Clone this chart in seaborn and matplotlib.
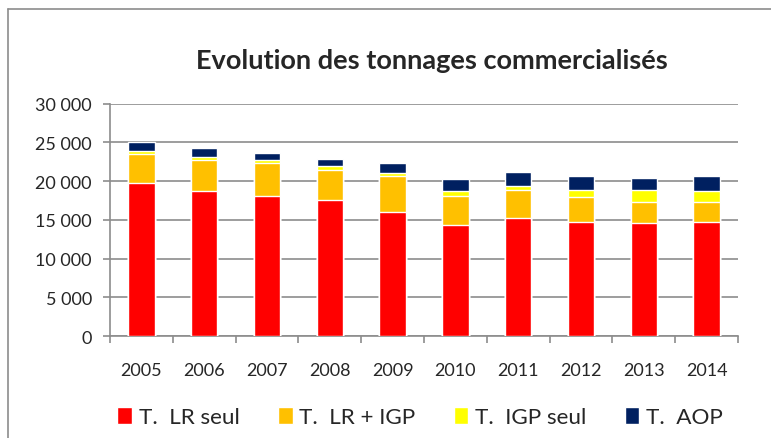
import pandas as pd
import seaborn as sns
import matplotlib.pyplot as plt
from matplotlib.patches import Patch
from matplotlib.lines import Line2D
from matplotlib.ticker import FuncFormatter, MultipleLocator, FixedLocator

# tonnages
years = ['2005', '2006', '2007', '2008', '2009', '2010', '2011', '2012', '2013', '2014']
lr_seul = [19700, 18700, 18100, 17500, 16000, 14300, 15200, 14700, 14600, 14700]
lr_igp = [3800, 4000, 4200, 3900, 4600, 3800, 3700, 3200, 2700, 2600]
igp_seul = [400, 400, 400, 500, 400, 600, 400, 1000, 1600, 1400]
aop = [1100, 1100, 900, 1000, 1300, 1500, 1900, 1700, 1500, 1900]

series = ['T.  LR seul', 'T.  LR + IGP', 'T.  IGP seul', 'T.  AOP']
colors = ['#FF0000', '#FFC000', '#FFFF00', '#002060']

df = pd.DataFrame({'year': years, series[0]: lr_seul, series[1]: lr_igp,
                   series[2]: igp_seul, series[3]: aop})

sns.set_style('white')
plt.rcParams['font.family'] = ['Lato', 'DejaVu Sans']

fig = plt.figure(figsize=(7.71, 4.39), dpi=100)
ax = fig.add_axes([0.1427, 0.2323, 0.8145, 0.5296])

# stacked bars: draw cumulative totals from top layer down
cum = df[series].cumsum(axis=1)
for name, col in reversed(list(zip(series, colors))):
    sns.barplot(x=df['year'], y=cum[name], color=col, saturation=1,
                width=0.42, ax=ax, zorder=3)

ax.set_ylim(0, 30000)
ax.set_xlim(-0.5, len(years) - 0.5)
ax.yaxis.set_major_locator(MultipleLocator(5000))
ax.yaxis.set_major_formatter(FuncFormatter(lambda v, p: f'{int(v):,}'.replace(',', ' ')))
ax.grid(axis='y', color='#8c8c8c', linewidth=1.2, zorder=0)
ax.set_axisbelow(True)
ax.set_xlabel('')
ax.set_ylabel('')

for s in ['top', 'right']:
    ax.spines[s].set_visible(False)
for s in ['left', 'bottom']:
    ax.spines[s].set_color('#8c8c8c')
    ax.spines[s].set_linewidth(1.2)

ax.xaxis.set_minor_locator(FixedLocator([i - 0.5 for i in range(len(years) + 1)]))
ax.tick_params(axis='x', which='major', length=0, labelsize=13, pad=19)
ax.tick_params(axis='x', which='minor', length=5, color='#8c8c8c', width=1.2, direction='out', bottom=True)
ax.tick_params(axis='y', length=5, color='#8c8c8c', width=1.2, direction='out', left=True, labelsize=13, pad=8)

fig.text(0.56, 0.86, 'Evolution des tonnages commercialisés', ha='center', va='center',
         fontsize=19.5, fontweight='bold')

handles = [Patch(facecolor=c, label=s) for s, c in zip(series, colors)]
fig.legend(handles=handles, loc='center', bbox_to_anchor=(0.545, 0.048), ncol=4,
           frameon=False, fontsize=16.2, handlelength=0.65, handleheight=0.85,
           handletextpad=0.3, columnspacing=1.7)

# chart frame (left and top edges visible)
fig.add_artist(Line2D([8 / 771, 8 / 771], [0, 1 - 10 / 439], color='#8c8c8c', linewidth=1.2))
fig.add_artist(Line2D([8 / 771, 1], [1 - 10 / 439, 1 - 10 / 439], color='#8c8c8c', linewidth=1.2))

fig.savefig('out.png', dpi=100)
plt.close()
